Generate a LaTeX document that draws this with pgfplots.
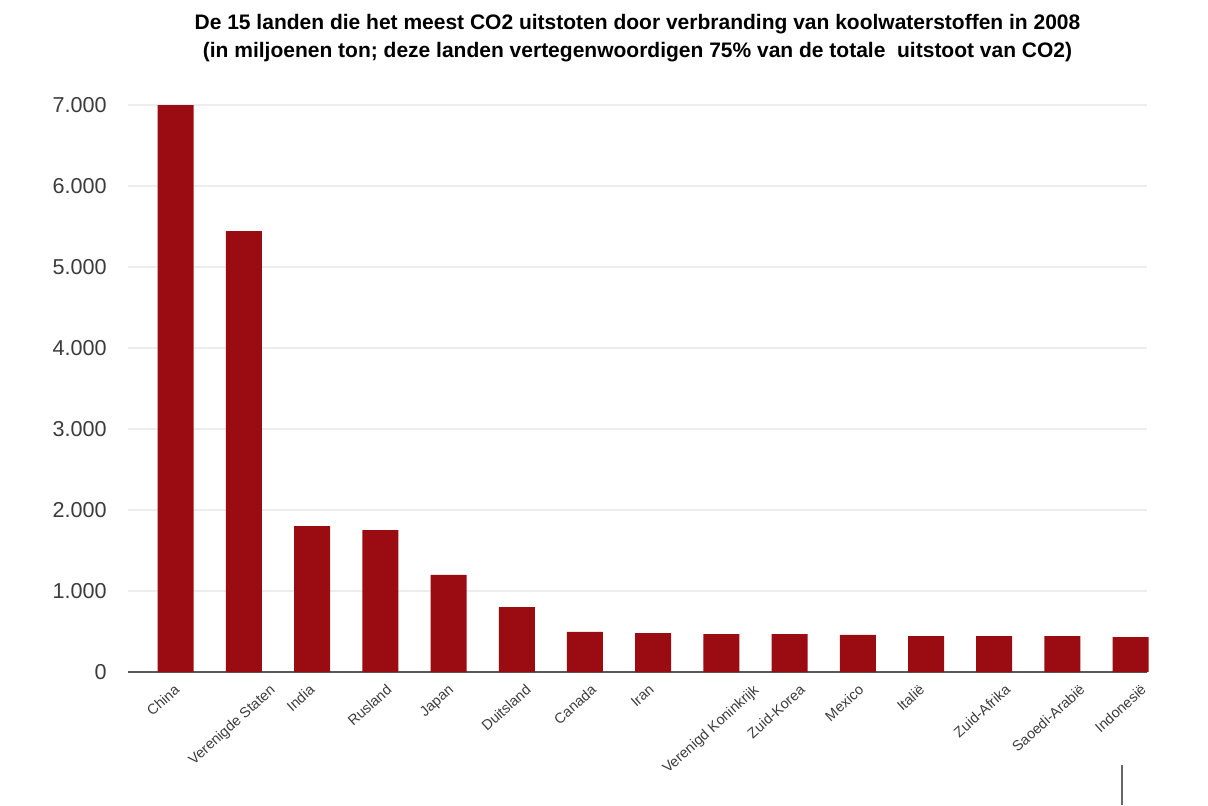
\documentclass[border=0pt]{standalone}
\usepackage{fontspec}
\setmainfont{Liberation Sans}
\usepackage{pgfplots}
\pgfplotsset{compat=1.18}
\definecolor{barred}{RGB}{155,12,18}
\definecolor{ticktext}{RGB}{60,60,60}
\begin{document}
\begin{tikzpicture}
\useasboundingbox (-64pt,-66.5pt) rectangle (540pt,336pt);
\begin{axis}[
  at={(0,0)}, anchor=south west,
  scale only axis, width=509.5pt, height=283.5pt,
  xmin=-0.7, xmax=14.24, ymin=0, ymax=7000,
  axis x line*=bottom, axis y line*=left,
  y axis line style={draw=none},
  x axis line style={draw=black!65, line width=0.8pt},
  major tick length=0pt,
  ytick={0,1000,...,7000},
  scaled y ticks=false,
  ymajorgrids, grid style={black!7, line width=0.6pt},
  yticklabel style={font=\fontsize{10.8}{12}\selectfont, text=ticktext, anchor=east, inner sep=0pt, xshift=-10.5pt,
    /pgf/number format/.cd, 1000 sep={.}, assume math mode=true},
  xtick={-0.18,1.22,1.80,2.93,3.84,4.97,5.93,6.78,8.31,8.99,9.85,10.74,12.00,13.09,13.99},
  xticklabels={China,Verenigde Staten,India,Rusland,Japan,Duitsland,Canada,Iran,Verenigd Koninkrijk,Zuid-Korea,Mexico,Italië,Zuid-Afrika,Saoedi-Arabië,Indonesië},
  xticklabel style={font=\fontsize{7.2}{8}\selectfont, text=ticktext, rotate=42, anchor=north east, inner sep=0pt, yshift=-7.5pt},
  clip=false,
]
\addplot[ybar, bar width=18pt, fill=barred, draw=none] coordinates {
  (0,7000) (1,5444) (2,1802) (3,1753) (4,1198) (5,802) (6,494) (7,481)
  (8,469) (9,469) (10,457) (11,444) (12,444) (13,444) (14,432)
};
\node[anchor=base, font=\bfseries\fontsize{10.5}{12}\selectfont] at (rel axis cs:0.5,1) [yshift=38pt]
  {De 15 landen die het meest CO2 uitstoten door verbranding van koolwaterstoffen in 2008};
\node[anchor=base, font=\bfseries\fontsize{10.5}{12}\selectfont] at (rel axis cs:0.5,1) [yshift=24pt]
  {(in miljoenen ton; deze landen vertegenwoordigen 75\% van de totale\ \ uitstoot van CO2)};
\end{axis}
\draw[black!60, line width=1pt] (497pt,-46.5pt) -- (497pt,-66.5pt);
\end{tikzpicture}
\end{document}
